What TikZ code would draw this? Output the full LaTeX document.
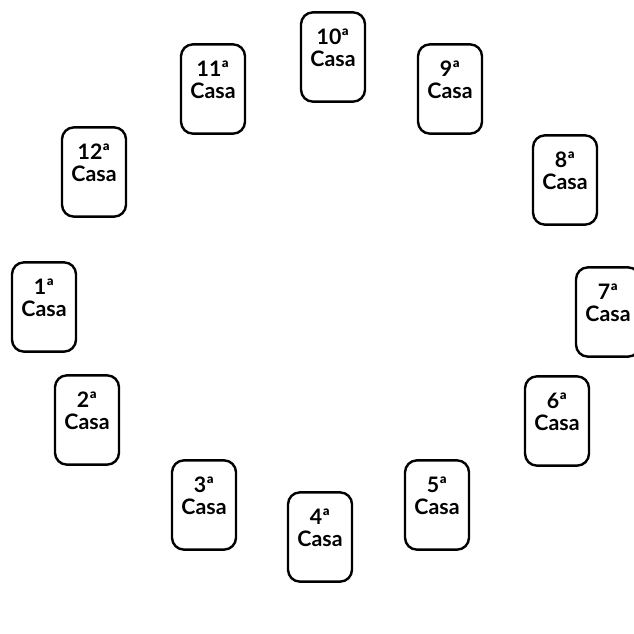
\documentclass[tikz,border=0pt]{standalone}
\usepackage{fontspec}
\setmainfont{Lato}
\usetikzlibrary{positioning}

\begin{document}
\begin{tikzpicture}[x = 0.75pt, y = -0.75pt,
		casa/.style = {draw, line width = 1.8pt, rounded corners = 9pt,
			minimum width = 48pt, minimum height = 67pt, inner sep = 0pt,
			align = center, font = \fontsize{16}{16.5}\selectfont\bfseries}]
	\clip (0, 0) rectangle (634, 634);

	\node[casa](c10) at (333, 57) {10ª\\Casa\\[-7.5pt]\strut};
	\node[casa](c11) at (213, 89) {11ª\\Casa\\[-7.5pt]\strut};
	\node[casa](c9) at (450, 89) {9ª\\Casa\\[-7.5pt]\strut};
	\node[casa](c12) at (94, 172) {12ª\\Casa\\[-7.5pt]\strut};
	\node[casa](c8) at (565, 180) {8ª\\Casa\\[-7.5pt]\strut};
	\node[casa](c1) at (44, 307) {1ª\\Casa\\[-7.5pt]\strut};
	\node[casa](c7) at (608, 312) {7ª\\Casa\\[-7.5pt]\strut};
	\node[casa](c2) at (87, 420) {2ª\\Casa\\[-7.5pt]\strut};
	\node[casa](c6) at (557, 421) {6ª\\Casa\\[-7.5pt]\strut};
	\node[casa](c3) at (204, 505) {3ª\\Casa\\[-7.5pt]\strut};
	\node[casa](c5) at (437, 505) {5ª\\Casa\\[-7.5pt]\strut};
	\node[casa](c4) at (320, 537) {4ª\\Casa\\[-7.5pt]\strut};
\end{tikzpicture}
\end{document}
